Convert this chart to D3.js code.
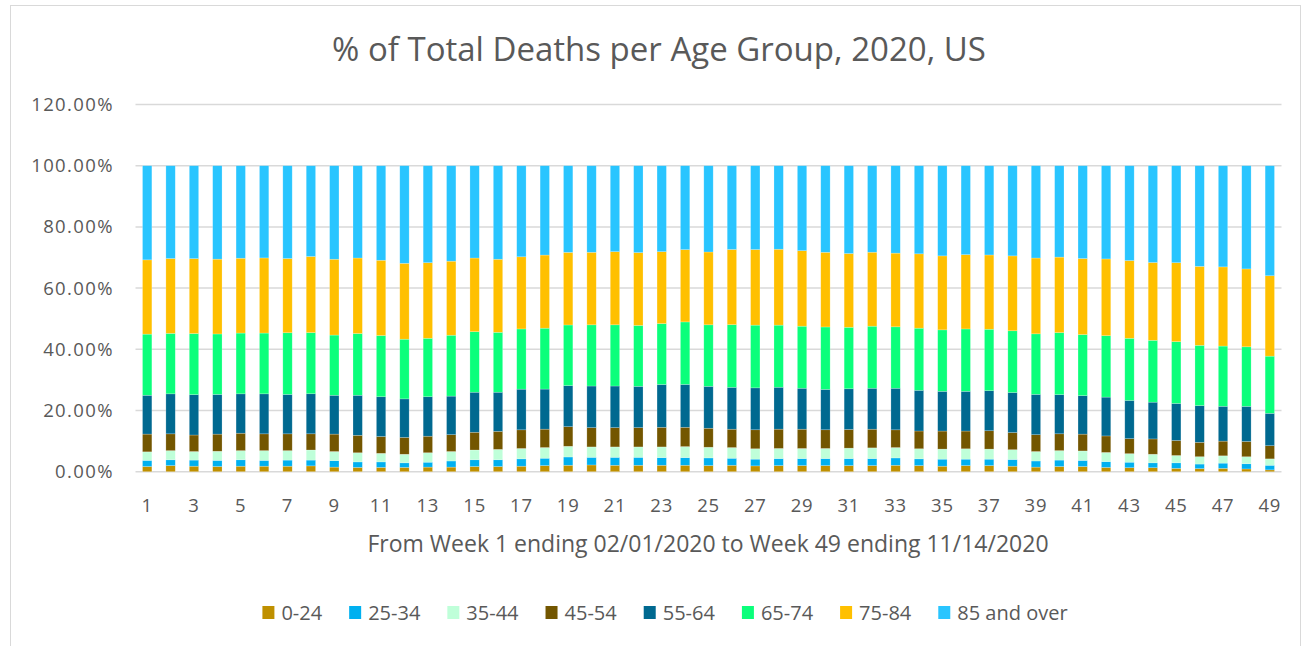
<!DOCTYPE html>
<html>
<head>
<meta charset="utf-8">
<script src="https://cdn.jsdelivr.net/npm/d3@7"></script>
<style>
  body { margin: 0; background: #fff; }
  svg text { font-family: "Open Sans", sans-serif; fill: #595959; }
</style>
</head>
<body>
<div id="chart"></div>
<script>
// week numbers 1..49
const weeks = [1,2,3,4,5,6,7,8,9,10,11,12,13,14,15,16,17,18,19,20,21,22,23,24,25,
  26,27,28,29,30,31,32,33,34,35,36,37,38,39,40,41,42,43,44,45,46,47,48,49];
const weekLabels = [1,3,5,7,9,11,13,15,17,19,21,23,25,27,29,31,33,35,37,39,41,43,45,47,49];

const groups = ['0-24','25-34','35-44','45-54','55-64','65-74','75-84','85 and over'];
const colors = ['#BF9000','#00B0F0','#BFFFD9','#735600','#006990','#0BFF7B','#FFC000','#29C5FF'];

// % of deaths per age group
const age0_24 = [1.7,2.0,1.8,1.7,1.8,1.8,1.8,1.9,1.5,1.4,1.4,1.4,1.5,1.5,1.7,1.7,1.8,2.0,2.1,2.2,2.1,2.1,2.1,2.1,2.0,
  2.1,1.9,2.0,2.0,2.0,2.0,2.0,2.1,2.0,1.8,2.0,2.0,1.8,1.5,1.7,1.7,1.4,1.3,1.3,1.1,1.0,1.1,0.9,0.6];
const age25_34 = [2.0,1.9,2.0,2.0,2.1,1.9,2.0,1.9,2.1,1.8,1.8,1.5,1.6,2.0,2.2,2.2,2.4,2.4,2.7,2.5,2.6,2.6,2.5,2.5,2.5,
  2.3,2.2,2.3,2.3,2.3,2.3,2.3,2.4,2.2,2.3,2.1,2.1,2.2,2.0,2.1,2.0,1.9,1.8,1.6,1.8,1.5,1.7,1.7,1.5];
const age35_44 = [2.8,3.0,2.8,3.0,3.0,3.2,3.1,3.3,3.0,3.0,2.8,2.8,3.1,3.1,3.2,3.4,3.4,3.5,3.5,3.4,3.4,3.4,3.5,3.6,3.5,
  3.5,3.4,3.3,3.3,3.3,3.4,3.5,3.4,3.3,3.3,3.4,3.3,3.2,3.1,3.1,3.1,3.0,2.8,2.8,2.4,2.4,2.4,2.3,2.1];
const age45_54 = [5.8,5.5,5.4,5.6,5.7,5.5,5.5,5.3,5.7,5.7,5.5,5.5,5.4,5.5,5.8,5.9,6.1,6.0,6.4,6.3,6.3,6.3,6.4,6.3,6.2,
  6.0,6.2,6.3,6.3,6.1,6.1,6.1,5.8,5.8,5.9,5.8,6.0,5.6,5.5,5.5,5.5,5.4,4.9,5.0,4.9,4.7,4.8,5.0,4.3];
const age55_64 = [12.7,13.1,13.2,13.0,12.9,13.1,12.9,13.1,12.7,13.1,13.0,12.6,12.9,12.6,13.1,12.8,13.3,13.1,13.4,13.6,13.6,13.5,14.0,14.0,13.7,
  13.7,13.7,13.7,13.4,13.2,13.3,13.4,13.6,13.3,13.0,13.0,13.1,13.1,13.2,12.8,12.6,12.7,12.5,12.0,12.1,12.0,11.4,11.5,10.6];
const age65_74 = [20.0,19.8,20.0,19.8,19.9,19.9,20.2,20.0,19.7,20.2,20.0,19.5,19.1,19.9,19.8,19.6,19.7,19.9,19.8,20.0,20.0,19.9,19.9,20.4,20.1,
  20.5,20.5,20.3,20.3,20.4,20.1,20.3,20.1,20.3,20.1,20.4,20.1,20.2,19.8,20.3,20.0,20.1,20.3,20.2,20.2,19.7,19.7,19.5,18.7];
const age75_84 = [24.3,24.5,24.5,24.5,24.5,24.6,24.3,24.9,24.8,24.7,24.6,24.8,24.7,24.2,24.1,23.9,23.6,23.9,23.7,23.7,23.9,23.8,23.5,23.6,23.8,
  24.6,24.7,24.8,24.7,24.4,24.1,24.2,24.1,24.3,24.2,24.3,24.3,24.5,24.8,24.7,24.9,25.1,25.4,25.4,25.8,25.8,25.9,25.5,26.3];
const age85plus = [30.8,30.4,30.4,30.6,30.3,30.2,30.4,29.7,30.6,30.2,30.9,31.9,31.7,31.2,30.2,30.6,29.8,29.2,28.3,28.3,28.1,28.4,28.1,27.4,28.2,
  27.4,27.4,27.3,27.8,28.3,28.7,28.3,28.6,28.8,29.5,29.1,29.2,29.5,30.2,29.9,30.4,30.5,31.0,31.6,31.7,32.9,33.1,33.8,36.0];

const series = [age0_24, age25_34, age35_44, age45_54, age55_64, age65_74, age75_84, age85plus];
const yTicks = [0, 0.2, 0.4, 0.6, 0.8, 1.0, 1.2];

const width = 1309, height = 646;
const table = weeks.map((w, i) => {
  const row = { week: w };
  groups.forEach((g, j) => { row[g] = series[j][i]; });
  return row;
});

const svg = d3.select('#chart').append('svg')
  .attr('width', width)
  .attr('height', height);

// chart border
svg.append('rect')
  .attr('x', 10.5).attr('y', 5.5)
  .attr('width', 1290).attr('height', 700)
  .attr('fill', '#fff')
  .attr('stroke', '#d9d9d9');

const x = d3.scaleBand()
  .domain(weeks)
  .range([135.5, 1281.5])
  .paddingInner(0.6)
  .paddingOuter(0.3);

const y = d3.scaleLinear()
  .domain([0, 1.2])
  .range([471.7, 104.5]);

// gridlines
svg.append('g')
  .selectAll('line')
  .data(yTicks)
  .join('line')
    .attr('x1', 135.5).attr('x2', 1281.5)
    .attr('y1', d => y(d)).attr('y2', d => y(d))
    .attr('stroke', '#d9d9d9')
    .attr('stroke-width', 1.5);

// y axis labels
const yAxis = svg.append('g')
  .attr('transform', 'translate(135,0)')
  .call(d3.axisLeft(y).tickValues(yTicks).tickFormat(d3.format('.2%')).tickSize(0).tickPadding(21));
yAxis.select('.domain').remove();
yAxis.selectAll('text')
  .style('font-size', '18.5px')
  .style('letter-spacing', '1.4px')
  .attr('fill', '#595959');

// stacked bars
const stack = d3.stack().keys(groups).offset(d3.stackOffsetExpand);
const layers = stack(table);

svg.append('g')
  .selectAll('g')
  .data(layers)
  .join('g')
    .attr('fill', (d, i) => colors[i])
  .selectAll('rect')
  .data(d => d)
  .join('rect')
    .attr('x', d => x(d.data.week))
    .attr('width', x.bandwidth())
    .attr('y', d => y(d[1]))
    .attr('height', d => y(d[0]) - y(d[1]))
    .attr('stroke', 'rgba(255,255,255,0.35)')
    .attr('stroke-width', 0.6);

// x axis labels
const xAxis = svg.append('g')
  .attr('transform', 'translate(0,472)')
  .call(d3.axisBottom(x).tickValues(weekLabels).tickSize(0).tickPadding(27));
xAxis.select('.domain').remove();
xAxis.selectAll('text')
  .style('font-size', '18.5px')
  .style('letter-spacing', '0.8px')
  .attr('fill', '#595959');

// title
svg.append('text')
  .attr('x', 659).attr('y', 61)
  .attr('text-anchor', 'middle')
  .style('font-size', '33px')
  .text('% of Total Deaths per Age Group, 2020, US');

// x axis title
svg.append('text')
  .attr('x', 708).attr('y', 552)
  .attr('text-anchor', 'middle')
  .style('font-size', '23px')
  .text('From Week 1 ending 02/01/2020 to Week 49 ending 11/14/2020');

// legend
const legend = svg.append('g');
const gap = 27;
let lx = 0;
groups.forEach((g, i) => {
  const item = legend.append('g').attr('transform', `translate(${lx},0)`);
  item.append('rect')
    .attr('x', 0).attr('y', 606)
    .attr('width', 12).attr('height', 13)
    .attr('fill', colors[i]);
  const t = item.append('text')
    .attr('x', 19).attr('y', 620)
    .style('font-size', '20px')
    .text(g);
  lx += 19 + t.node().getComputedTextLength() + gap;
});
lx -= gap;
legend.attr('transform', `translate(${665 - lx / 2},0)`);
</script>
</body>
</html>
